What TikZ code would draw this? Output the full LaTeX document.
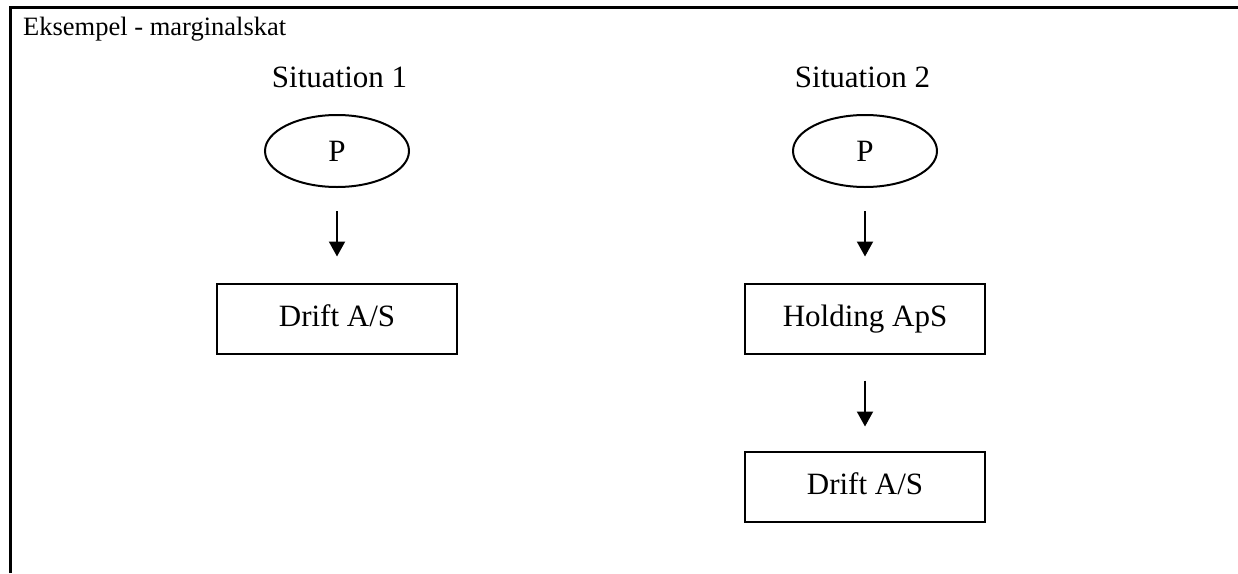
\documentclass[tikz,border=0pt]{standalone}
\usepackage{fontspec}
\setmainfont{Liberation Serif}
\usetikzlibrary{shapes.geometric,arrows.meta}
\begin{document}
\begin{tikzpicture}[x=1pt,y=-1pt,
  txt/.style={font=\fontsize{31}{36}\selectfont},
  oval/.style={ellipse,draw,line width=2pt,minimum width=144pt,minimum height=72pt,inner sep=0pt,font=\fontsize{31}{36}\selectfont},
  boxnode/.style={rectangle,draw,line width=2pt,minimum width=240pt,minimum height=70pt,inner sep=0pt,text height=22pt,text depth=7pt,font=\fontsize{31}{36}\selectfont},
  arr/.style={line width=2pt,-{Triangle[width=16pt,length=15pt]}}]
\useasboundingbox (0,0) rectangle (1238,573);
\coordinate (fb) at (10.3,573);
\coordinate (fc) at (10.3,7.8);
\coordinate (fr) at (1238,7.8);
\draw[line width=2.7pt] (fb) -- (fc) -- (fr);
\node[anchor=base west,inner sep=0pt,font=\fontsize{26.5}{32}\selectfont] (title) at (23,35) {Eksempel - marginalskat};
\node[txt,anchor=base,inner sep=0pt] (s1) at (339.5,87) {Situation 1};
\node[txt,anchor=base,inner sep=0pt] (s2) at (862.5,87) {Situation 2};
\node[oval] (p1) at (337,151) {P};
\node[oval] (p2) at (865,151) {P};
\node[boxnode] (d1) at (337,318.5) {Drift A/S};
\node[boxnode] (h2) at (865,318.5) {Holding ApS};
\node[boxnode] (d2) at (865,486.5) {Drift A/S};
\draw[arr,shorten <=23pt,shorten >=26pt] (p1) -- (d1);
\draw[arr,shorten <=23pt,shorten >=26pt] (p2) -- (h2);
\draw[arr,shorten <=26pt,shorten >=24pt] (h2) -- (d2);
\end{tikzpicture}
\end{document}
